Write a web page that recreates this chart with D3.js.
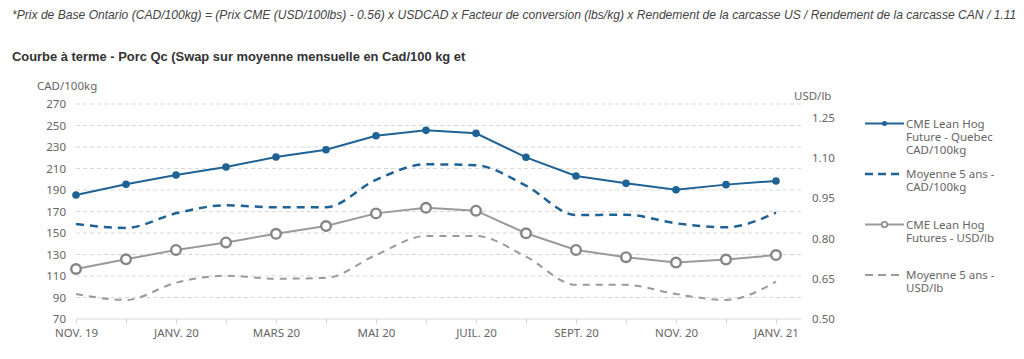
<!DOCTYPE html>
<html><head><meta charset="utf-8">
<script src="https://cdn.jsdelivr.net/npm/d3@7"></script>
<style>
body{margin:0;background:#fff;}
svg{display:block;}
</style></head>
<body>
<svg id="chart" width="1024" height="359"></svg>
<script>
const months = ["NOV. 19","DÉC. 19","JANV. 20","FÉVR. 20","MARS 20","AVR. 20","MAI 20","JUIN 20","JUIL. 20","AOÛT 20","SEPT. 20","OCT. 20","NOV. 20","DÉC. 20","JANV. 21"];
const quebecCAD = [185.3,195.3,204,211.4,220.7,227.5,240.5,245.5,242.7,220.4,203,196.2,190.3,195,198.4];
const avg5CAD   = [158.4,154.7,168.3,175.8,173.9,174,199.5,213.9,213,194,166.7,167,159,155.3,168.9];
const cmeUSD    = [0.686,0.722,0.757,0.785,0.817,0.846,0.893,0.914,0.903,0.819,0.757,0.730,0.710,0.721,0.738];
const avg5USD   = [0.593,0.571,0.635,0.661,0.650,0.653,0.738,0.809,0.809,0.732,0.627,0.627,0.593,0.571,0.639];
const leftTicks = [70,90,110,130,150,170,190,210,230,250,270];
const rightTicks = [0.50,0.65,0.80,0.95,1.10,1.25];
const legendLabels = [["CME Lean Hog","Future - Quebec","CAD/100kg"],["Moyenne 5 ans -","CAD/100kg"],["CME Lean Hog","Futures - USD/lb"],["Moyenne 5 ans -","USD/lb"]];
const noteText = "*Prix de Base Ontario (CAD/100kg) = (Prix CME (USD/100lbs) - 0.56) x USDCAD x Facteur de conversion (lbs/kg) x Rendement de la carcasse US / Rendement de la carcasse CAN / 1.11";
const titleText = "Courbe à terme - Porc Qc (Swap sur moyenne mensuelle en Cad/100 kg et";

const blue = "#1f6296", gray = "#9a9a9a", ringGray = "#858585", textCol = "#666";
const svg = d3.select("#chart");
const font = "'Noto Sans', sans-serif";

function fitText(sel, w){
  const len = sel.node().getComputedTextLength();
  const fs = parseFloat(sel.attr("font-size"));
  sel.attr("font-size", fs * w / len);
}
const note = svg.append("text").attr("x",12).attr("y",19).text(noteText)
  .attr("font-family","'Liberation Sans', Arial, sans-serif").attr("font-style","italic")
  .attr("font-size",11).attr("fill","#444");
fitText(note, 1005);
const title = svg.append("text").attr("x",12).attr("y",61).text(titleText)
  .attr("font-family","'Liberation Sans', Arial, sans-serif").attr("font-weight","bold")
  .attr("font-size",12.5).attr("fill","#333");
fitText(title, 454);

const x = d3.scalePoint().domain(months).range([76,776]);
const yL = d3.scaleLinear().domain([70,270]).range([319,104]);
const yR = d3.scaleLinear().domain([0.5,1.3]).range([319,104]);
const axisEnd = 801;

svg.append("g").selectAll("line").data(leftTicks.slice(1)).join("line")
  .attr("x1",76).attr("x2",axisEnd).attr("y1",d=>yL(d)).attr("y2",d=>yL(d))
  .attr("stroke","#d9d9d9").attr("stroke-dasharray","4,3").attr("stroke-width",1);

const gL = svg.append("g").attr("transform","translate(66,0)")
  .call(d3.axisLeft(yL).tickValues(leftTicks).tickSize(0).tickPadding(0).tickFormat(d3.format("d")));
gL.select(".domain").remove();
gL.selectAll("text").attr("font-family",font).attr("font-size",11.5).attr("fill",textCol);
svg.append("text").attr("x",37).attr("y",90).text("CAD/100kg").attr("font-family",font).attr("font-size",11.5).attr("fill",textCol);

const gR = svg.append("g").attr("transform","translate(812,0)")
  .call(d3.axisRight(yR).tickValues(rightTicks).tickSize(0).tickPadding(0).tickFormat(d3.format(".2f")));
gR.select(".domain").remove();
gR.selectAll("text").attr("font-family",font).attr("font-size",11.5).attr("fill",textCol);
svg.append("text").attr("x",794).attr("y",100).text("USD/lb").attr("font-family",font).attr("font-size",11.5).attr("fill",textCol);

const gX = svg.append("g").attr("transform","translate(0,319)")
  .call(d3.axisBottom(x).tickSize(5).tickPadding(5).tickFormat((d,i)=> i%2===0 ? d : ""));
gX.select(".domain").attr("d",`M76,0H${axisEnd}`).attr("stroke","#d9d9d9");
gX.selectAll(".tick line").attr("stroke","#d9d9d9");
gX.selectAll("text").attr("font-family",font).attr("font-size",11.5).attr("fill",textCol);

const lineL = d3.line().x((d,i)=>x(months[i])).y(d=>yL(d));
const lineLs = d3.line().x((d,i)=>x(months[i])).y(d=>yL(d)).curve(d3.curveMonotoneX);
const lineR = d3.line().x((d,i)=>x(months[i])).y(d=>yR(d));
const lineRs = d3.line().x((d,i)=>x(months[i])).y(d=>yR(d)).curve(d3.curveMonotoneX);

svg.append("path").attr("d",lineRs(avg5USD)).attr("fill","none").attr("stroke",gray).attr("stroke-width",2).attr("stroke-dasharray","7,6");
svg.append("path").attr("d",lineR(cmeUSD)).attr("fill","none").attr("stroke",gray).attr("stroke-width",2);
svg.append("g").selectAll("circle").data(cmeUSD).join("circle")
  .attr("cx",(d,i)=>x(months[i])).attr("cy",d=>yR(d)).attr("r",4.8)
  .attr("fill","#fff").attr("stroke",ringGray).attr("stroke-width",2.4);
svg.append("path").attr("d",lineLs(avg5CAD)).attr("fill","none").attr("stroke",blue).attr("stroke-width",2.5).attr("stroke-dasharray","8,6");
svg.append("path").attr("d",lineL(quebecCAD)).attr("fill","none").attr("stroke",blue).attr("stroke-width",2);
svg.append("g").selectAll("circle").data(quebecCAD).join("circle")
  .attr("cx",(d,i)=>x(months[i])).attr("cy",d=>yL(d)).attr("r",3.8).attr("fill",blue);

const lg = svg.append("g").attr("font-family",font).attr("font-size",11.5).attr("fill",textCol);
const legY = [123.5,174,224.5,275];
const styles = [
  {c:blue,dash:null,w:2,m:"dot"},
  {c:blue,dash:"8,5",w:2.5,m:null},
  {c:gray,dash:null,w:2,m:"ring"},
  {c:gray,dash:"8,5",w:2,m:null}];
legendLabels.forEach((lines,k)=>{
  const y0 = legY[k], s = styles[k];
  lg.append("line").attr("x1",865).attr("x2",904).attr("y1",y0).attr("y2",y0)
    .attr("stroke",s.c).attr("stroke-width",s.w).attr("stroke-dasharray",s.dash);
  if(s.m==="dot") lg.append("circle").attr("cx",884.5).attr("cy",y0).attr("r",2.5).attr("fill",s.c);
  if(s.m==="ring") lg.append("circle").attr("cx",884.5).attr("cy",y0).attr("r",2.8).attr("fill","#fff").attr("stroke",ringGray).attr("stroke-width",1.5);
  lines.forEach((t,j)=>{
    lg.append("text").attr("x",906).attr("y",y0+4+j*13.3).text(t);
  });
});
</script>
</body></html>
